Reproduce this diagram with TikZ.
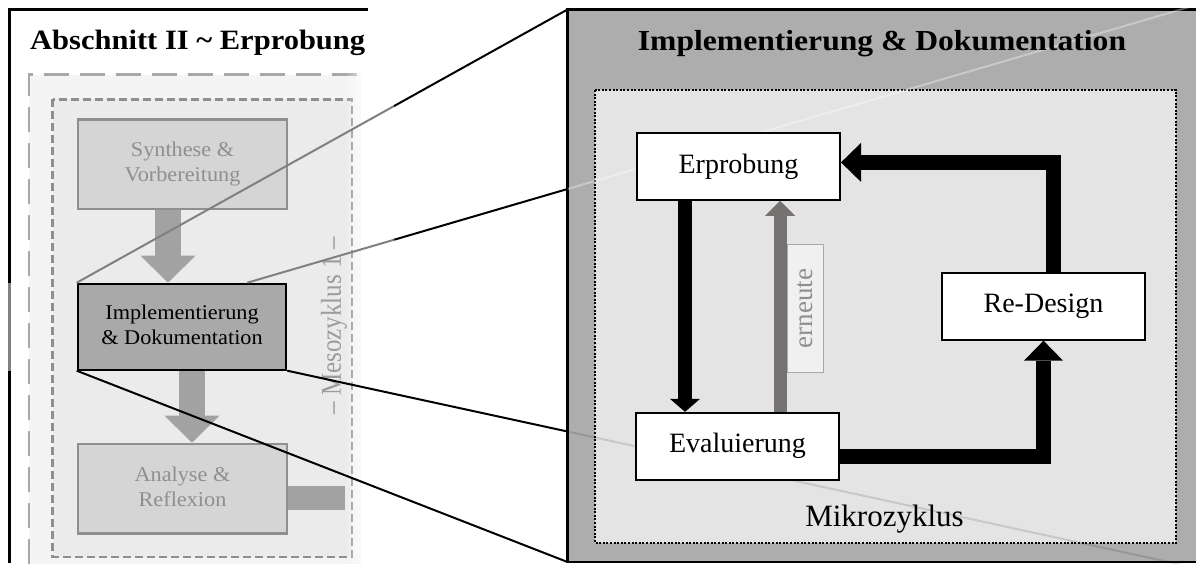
\documentclass[tikz,border=0pt]{standalone}
\usepackage{graphicx}
\usepackage{fontspec}
\setmainfont{Liberation Serif}
\usetikzlibrary{arrows.meta,calc,fadings}
\definecolor{outerfill}{HTML}{F4F4F4}
\definecolor{outerdash}{HTML}{A8A8A8}
\definecolor{innerfill}{HTML}{EBEBEB}
\definecolor{innerdash}{HTML}{8E8E8E}
\definecolor{lboxfill}{HTML}{D5D5D5}
\definecolor{lgraytxt}{HTML}{8F8F8F}
\definecolor{implfill}{HTML}{A9A9A9}
\definecolor{larrowc}{HTML}{A2A2A2}
\definecolor{mesotxt}{HTML}{9C9C9C}
\definecolor{rpanel}{HTML}{ADADAD}
\definecolor{rinner}{HTML}{E4E4E4}
\definecolor{garrowc}{HTML}{767272}
\definecolor{ernfill}{HTML}{F0F0F0}
\definecolor{erndraw}{HTML}{A8A8A8}
\definecolor{zoomgray}{HTML}{808080}
\tikzfading[name=fadeR, left color=transparent!100, right color=transparent!0]
\newcommand{\LeftLbl}[1]{\scalebox{1.06}[1]{\begin{tabular}{@{}c@{}}#1\end{tabular}}}
\tikzset{
  lbox/.style={draw=lgraytxt, line width=2.5pt, fill=lboxfill, text=lgraytxt,
    minimum width=209pt, minimum height=89.5pt, inner sep=0pt,
    font=\fontsize{21}{25}\selectfont},
  implbox/.style={lbox, draw=black, line width=2pt, fill=implfill, text=black,
    minimum width=208.6pt, minimum height=86pt},
  larrow/.style={draw=larrowc, line width=26.7pt,
    -{Triangle[width=55pt,length=27pt,line width=0pt]}},
  rbox/.style={draw=black, line width=2pt, fill=white, minimum width=203pt,
    minimum height=66.7pt, inner sep=0pt, font=\fontsize{28}{32}\selectfont},
  barrowA/.style={draw=black, line width=14pt,
    -{Triangle[width=30pt,length=13pt,line width=0pt]}},
  garrow/.style={draw=garrowc, line width=13pt,
    -{Triangle[width=30pt,length=15pt,line width=0pt]}},
  barrowB/.style={draw=black, line width=14.5pt, line join=miter,
    -{Triangle[width=39pt,length=20pt,line width=0pt]}},
  zoomline/.style={line width=2pt},
}
\begin{document}
\begin{tikzpicture}[x=1pt,y=-1pt]
\useasboundingbox (0,0) rectangle (1196,563);
\clip (0,0) rectangle (1196,563);

% ---------- left panel ----------
\fill[outerfill] (29,74.5) rectangle (361,600);
\draw[outerdash, line width=2.5pt, dash pattern=on 25pt off 11pt]
  (29,600) -- (29,74.5) -- (361,74.5);
\draw[innerdash, line width=2.5pt, fill=innerfill, dash pattern=on 8pt off 4pt]
  (52.5,99.3) rectangle (352,557);

\node[lbox] (syn) at (182.5,164) {\LeftLbl{Synthese \&\\Vorbereitung}};
\node[implbox] (impl) at (182,326.7) {\LeftLbl{Implementierung\\\& Dokumentation}};
\node[lbox] (ana) at (182.5,488.7) {\LeftLbl{Analyse \&\\Reflexion}};

\draw[larrow] ($(syn.south)+(-14.5,0)$) -- ($(impl.north)+(-14,0)$);
\draw[larrow] ($(impl.south)+(10,0)$) -- ($(ana.north)+(9.5,0)$);
\coordinate (barend) at (345,497.9);
\draw[larrowc, line width=24.3pt] ($(ana.east)+(0,9.2)$) -- (barend);

\node[rotate=90, text=mesotxt, inner sep=0pt, font=\fontsize{25}{30}\selectfont]
  (meso) at (334,326) {\scalebox{1}[1.15]{-- Mesozyklus 1 --}};

\fill[white, path fading=fadeR] (344,55) rectangle (374,563);

% border lines of left panel
\draw[black, line width=2.5pt] (9.5,563) -- (9.5,371);
\draw[zoomgray, line width=2.5pt] (9.5,371) -- (9.5,283);
\draw[black, line width=2.5pt] (9.5,283) -- (9.5,9.5) -- (368,9.5);

\node[anchor=base west, inner sep=0pt] (t1) at (30,49.3)
  {\scalebox{1.09}[1]{\bfseries\fontsize{28}{32}\selectfont Abschnitt II \textasciitilde\ Erprobung}};

% ---------- right panel ----------
\coordinate (rpA) at (567.5,9.5);
\coordinate (rpB) at (567.5,189);
\coordinate (rpC) at (567.5,431.5);
\coordinate (rpD) at (567.5,562);
\draw[black, line width=2.5pt, fill=rpanel] (567.5,9.5) rectangle (1215,562);
\draw[black, line width=2pt, dash pattern=on 2pt off 1.6pt, fill=rinner]
  (595,90) rectangle (1176,543);

\coordinate (b0) at ($(impl.north east)+(-40,0)$);
\coordinate (bEnd) at ($(b0)!2.96!(rpB)$);
\coordinate (cEnd) at ($(impl.south east)!3.24!(rpC)$);
\draw[white, opacity=0.35, line width=2pt] (rpB) -- (bEnd);
\draw[black, opacity=0.12, line width=2pt] (rpC) -- (cEnd);

\node[anchor=base, inner sep=0pt] (t2) at (882,50)
  {\scalebox{1.09}[1]{\bfseries\fontsize{29}{33}\selectfont Implementierung \& Dokumentation}};

\node[rbox] (erp) at (738.5,166.4) {Erprobung};
\node[rbox] (eval) at (737.5,446.2) {Evaluierung};
\node[rbox] (rd) at (1043.5,306.3) {Re-Design};

\draw[barrowA] ($(erp.south)+(-53.5,0)$) -- ($(eval.north)+(-52.5,0)$);
\draw[garrow] ($(eval.north)+(42.5,0)$) -- ($(erp.south)+(41.5,0)$);
\draw[barrowB] ($(eval.east)+(0,10.5)$) -| (rd.south);
\draw[barrowB] ($(rd.north)+(10,0)$) |- ($(erp.east)+(0,-4)$);

\node[rotate=90, draw=erndraw, line width=1pt, fill=ernfill, text=lgraytxt,
  minimum width=128pt, minimum height=36pt, inner sep=0pt,
  font=\fontsize{27}{30}\selectfont] (ern) at (805.5,308.5) {erneute};

\node[anchor=base, inner sep=0pt, font=\fontsize{31}{36}\selectfont] (mk) at (884.5,526) {Mikrozyklus};

% ---------- zoom lines ----------
\coordinate (aS) at ($(impl.north west)!0.6465!(rpA)$);
\coordinate (bS) at ($(b0)!0.459!(rpB)$);
\draw[zoomgray, zoomline] (impl.north west) -- (aS);
\draw[black, zoomline] (aS) -- (rpA);
\draw[zoomgray, zoomline] (b0) -- (bS);
\draw[black, zoomline] (bS) -- (rpB);
\draw[black, zoomline] (impl.south east) -- (rpC);
\draw[black, zoomline] (impl.south west) -- (rpD);
\end{tikzpicture}
\end{document}
